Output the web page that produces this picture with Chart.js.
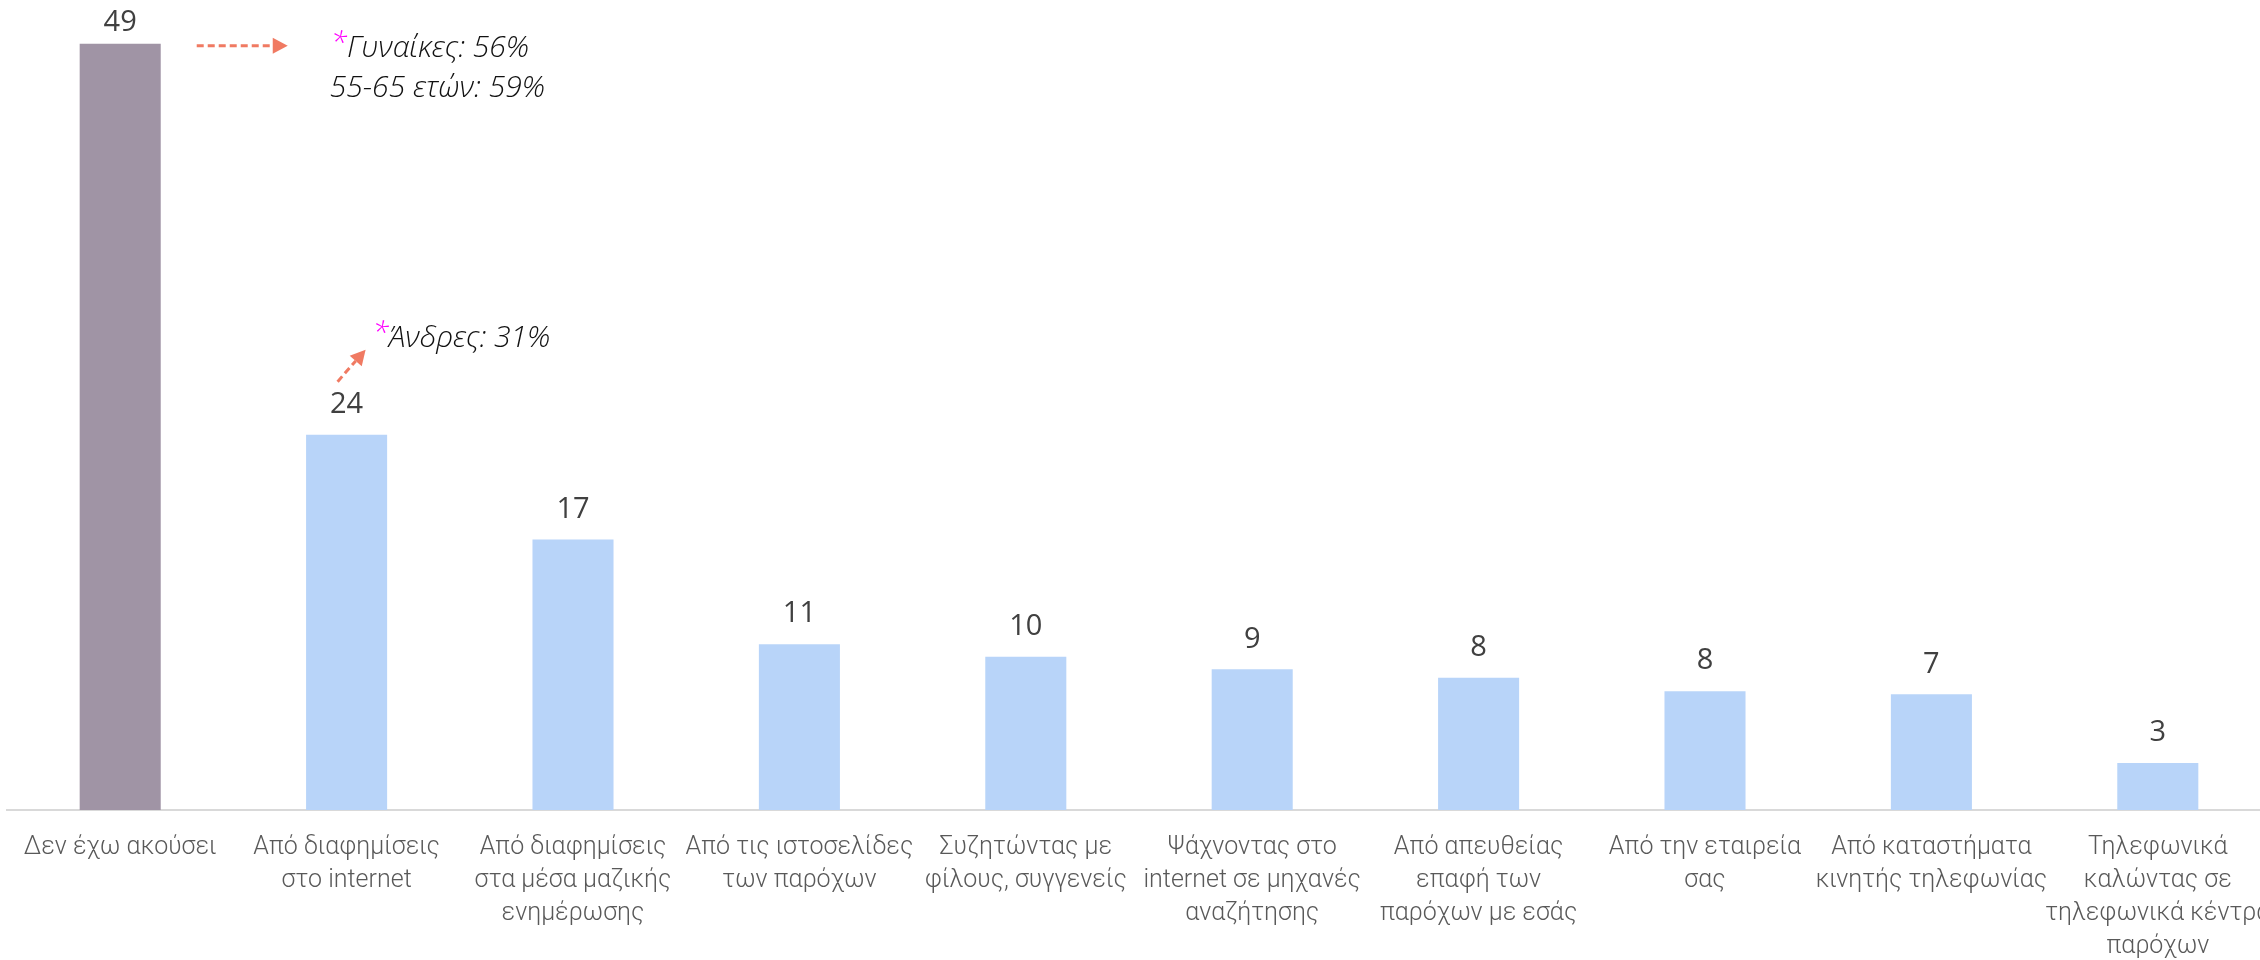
<!DOCTYPE html>
<html>
<head>
<meta charset="utf-8">
<script src="https://cdn.jsdelivr.net/npm/chart.js@4.4.1/dist/chart.umd.min.js"></script>
<style>
    html, body { margin: 0; padding: 0; background: #fff; overflow: hidden; }
    #wrap { width: 2280px; height: 960px; }
</style>
</head>
<body>
<div id="wrap"><canvas id="sourcesChart" width="2280" height="960"></canvas></div>
<script>
const categories = [
    ['Δεν έχω ακούσει'],
    ['Από διαφημίσεις', 'στο internet'],
    ['Από διαφημίσεις', 'στα μέσα μαζικής', 'ενημέρωσης'],
    ['Από τις ιστοσελίδες', 'των παρόχων'],
    ['Συζητώντας με', 'φίλους, συγγενείς'],
    ['Ψάχνοντας στο', 'internet σε μηχανές', 'αναζήτησης'],
    ['Από απευθείας', 'επαφή των', 'παρόχων με εσάς'],
    ['Από την εταιρεία', 'σας'],
    ['Από καταστήματα', 'κινητής τηλεφωνίας'],
    ['Τηλεφωνικά', 'καλώντας σε', 'τηλεφωνικά κέντρα', 'παρόχων']
];

const values = [49, 24, 17.3, 10.6, 9.8, 9.0, 8.45, 7.6, 7.4, 3.0];

const barColors = ['#A094A5', '#B8D4F9', '#B8D4F9', '#B8D4F9', '#B8D4F9',
                   '#B8D4F9', '#B8D4F9', '#B8D4F9', '#B8D4F9', '#B8D4F9'];

const noteWomen = ['Γυναίκες: 56%', '55-65 ετών: 59%'];
const noteMen = 'Άνδρες: 31%';

// dashed arrow with filled head
function dashedArrow(ctx, x1, y1, x2, y2) {
    const ang = Math.atan2(y2 - y1, x2 - x1);
    const head = 15;
    ctx.save();
    ctx.strokeStyle = '#F07A62';
    ctx.fillStyle = '#F07A62';
    ctx.lineWidth = 3;
    ctx.setLineDash([7, 4]);
    ctx.beginPath();
    ctx.moveTo(x1, y1);
    ctx.lineTo(x2 - Math.cos(ang) * head, y2 - Math.sin(ang) * head);
    ctx.stroke();
    ctx.setLineDash([]);
    ctx.beginPath();
    ctx.moveTo(x2, y2);
    ctx.lineTo(x2 - Math.cos(ang) * head - Math.sin(ang) * 8, y2 - Math.sin(ang) * head + Math.cos(ang) * 8);
    ctx.lineTo(x2 - Math.cos(ang) * head + Math.sin(ang) * 8, y2 - Math.sin(ang) * head - Math.cos(ang) * 8);
    ctx.closePath();
    ctx.fill();
    ctx.restore();
}

// note text with magenta asterisk
function starNote(ctx, x, y, text, star) {
    ctx.save();
    ctx.font = 'italic 300 30px "Open Sans"';
    ctx.textBaseline = 'middle';
    ctx.textAlign = 'left';
    if (star) {
        ctx.fillStyle = '#FF00FF';
        ctx.fillText('*', x, y - 4);
        x += ctx.measureText('*').width;
    }
    ctx.fillStyle = '#111111';
    ctx.fillText(text, x, y);
    ctx.restore();
}

const valueLabels = {
    id: 'valueLabels',
    afterDatasetsDraw(chart) {
        const ctx = chart.ctx;
        const meta = chart.getDatasetMeta(0);
        ctx.save();
        ctx.font = '29px "Open Sans"';
        ctx.fillStyle = '#404040';
        ctx.textAlign = 'center';
        ctx.textBaseline = 'middle';
        meta.data.forEach((bar, i) => {
            ctx.fillText(Math.round(values[i]), bar.x, Math.max(bar.y - 30, 23));
        });
        ctx.restore();
    }
};

const notes = {
    id: 'notes',
    afterDraw(chart) {
        const ctx = chart.ctx;
        const bars = chart.getDatasetMeta(0).data;
        const b0 = bars[0], b1 = bars[1];
        const r0 = b0.x + b0.width / 2;
        // women / age note next to first bar
        dashedArrow(ctx, r0 + 36, b0.y + 2, r0 + 127, b0.y + 2);
        starNote(ctx, r0 + 170, b0.y + 5, noteWomen[0], true);
        starNote(ctx, r0 + 169, b0.y + 45, noteWomen[1], false);
        // men note above second bar
        dashedArrow(ctx, b1.x - 9, b1.y - 53, b1.x + 19, b1.y - 85);
        starNote(ctx, b1.x + 26, b1.y - 96, noteMen, true);
    }
};

function createChart() {
    new Chart(document.getElementById('sourcesChart'), {
        type: 'bar',
        data: {
            labels: categories,
            datasets: [{
                data: values,
                backgroundColor: barColors,
                barPercentage: 0.358,
                categoryPercentage: 1
            }]
        },
        options: {
            responsive: false,
            animation: false,
            devicePixelRatio: 1,
            layout: { padding: { left: 7, right: 9, top: 28, bottom: 0 } },
            plugins: { legend: { display: false }, tooltip: { enabled: false } },
            scales: {
                x: {
                    grid: { display: false, drawTicks: false },
                    border: { display: true, color: '#D9D9D9', width: 2 },
                    ticks: {
                        autoSkip: false,
                        maxRotation: 0,
                        padding: 21,
                        color: '#595959',
                        font: { family: 'Roboto', weight: 300, size: 25, lineHeight: 1.32 }
                    },
                    afterFit(scale) {
                        scale.height = 150;
                        scale.paddingLeft = 0;
                        scale.paddingRight = 0;
                    }
                },
                y: {
                    display: false,
                    min: 0,
                    max: 50
                }
            }
        },
        plugins: [valueLabels, notes]
    });
}

createChart();
</script>
</body>
</html>
